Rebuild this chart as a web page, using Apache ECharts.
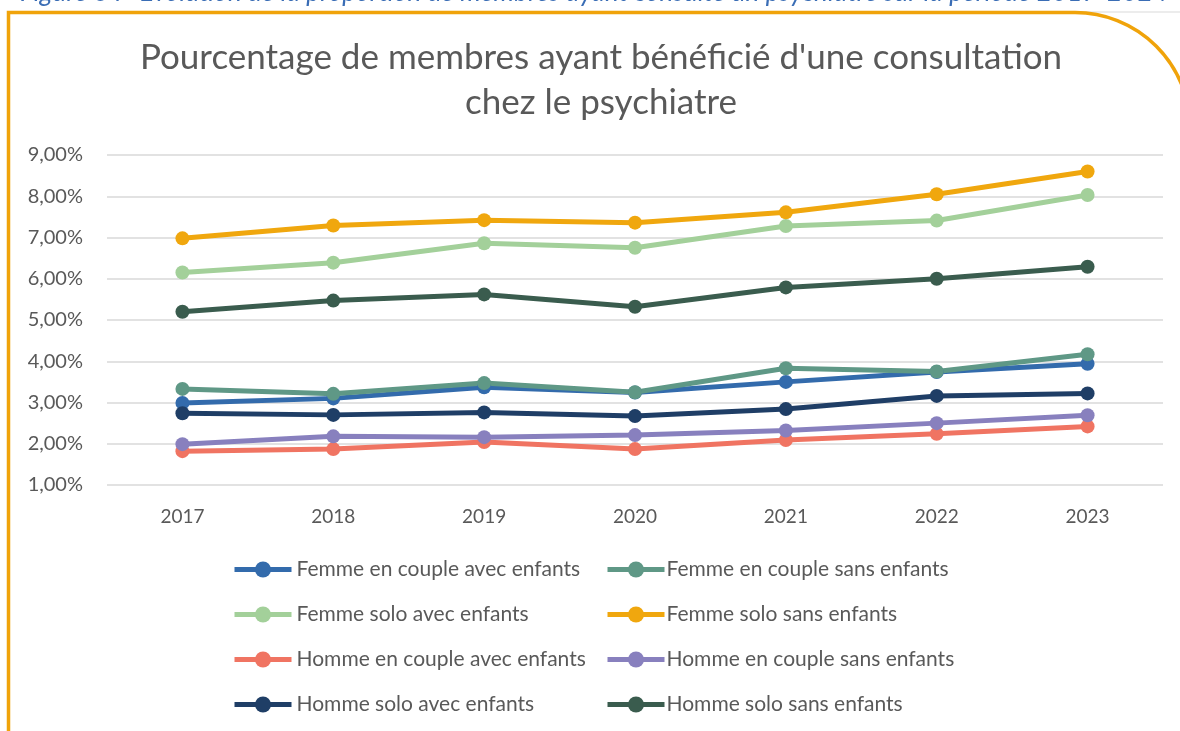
<!DOCTYPE html>
<html>
<head>
<meta charset="utf-8">
<script src="https://cdn.jsdelivr.net/npm/echarts@6/dist/echarts.min.js"></script>
<style>
html,body{margin:0;padding:0;background:#fff;}
#chart{width:1180px;height:731px;}
</style>
</head>
<body>
<div id="chart"></div>
<script>
const years = ['2017','2018','2019','2020','2021','2022','2023'];
const seriesNames = [
  'Femme en couple avec enfants','Femme en couple sans enfants',
  'Femme solo avec enfants','Femme solo sans enfants',
  'Homme en couple avec enfants','Homme en couple sans enfants',
  'Homme solo avec enfants','Homme solo sans enfants'
];
const femmeCoupleAvec  = [2.99, 3.10, 3.37, 3.24, 3.50, 3.74, 3.94];
const femmeCoupleSans  = [3.33, 3.21, 3.47, 3.25, 3.83, 3.75, 4.17];
const femmeSoloAvec    = [6.15, 6.39, 6.86, 6.75, 7.28, 7.41, 8.03];
const femmeSoloSans    = [6.98, 7.29, 7.42, 7.36, 7.61, 8.05, 8.60];
const hommeCoupleAvec  = [1.82, 1.87, 2.04, 1.87, 2.09, 2.24, 2.42];
const hommeCoupleSans  = [1.99, 2.18, 2.16, 2.21, 2.32, 2.50, 2.69];
const hommeSoloAvec    = [2.74, 2.70, 2.76, 2.67, 2.84, 3.16, 3.22];
const hommeSoloSans    = [5.20, 5.47, 5.62, 5.32, 5.79, 6.00, 6.29];
const colors = ['#336BAC','#5F9886','#A3D09A','#F0A70E','#F07462','#8880BE','#1F3E66','#3A5C4E'];
const allData = [femmeCoupleAvec, femmeCoupleSans, femmeSoloAvec, femmeSoloSans,
                 hommeCoupleAvec, hommeCoupleSans, hommeSoloAvec, hommeSoloSans];
const captionLabel = 'Figure 3 :';
const caption = 'Évolution de la proportion de membres ayant consulté un psychiatre sur la période 2017-2024';

const FONT = 'Lato, "Open Sans", sans-serif';
const chart = echarts.init(document.getElementById('chart'));

// legends: one per item, two columns of four rows
const legendCols = [232, 605];
const legendRows = [569, 614, 659, 704];
const legends = seriesNames.map((n, i) => ({
  data: [n],
  left: legendCols[i % 2],
  top: legendRows[Math.floor(i / 2)] - 10,
  padding: 0,
  itemWidth: 57,
  itemHeight: 20,
  lineStyle: {width: 5},
  textStyle: {fontFamily: FONT, fontSize: 21, color: '#595959', lineHeight: 20, padding: [0, 0, 0, i % 2 ? -3 : 0]}
}));

// caption (clipped at the top of the page): size it so it spans 140 -> 1170
const ctx = document.createElement('canvas').getContext('2d');
ctx.font = 'italic 19px ' + FONT;
const capSize = Math.round(19 * 1030 / ctx.measureText(caption).width * 10) / 10;
const capTop = 2 - 0.35 * capSize - capSize / 2;
const capFont = 'italic ' + capSize + 'px ' + FONT;

chart.setOption({
  animation: false,
  color: colors,
  title: {
    text: "Pourcentage de membres ayant bénéficié d'une consultation\nchez le psychiatre",
    left: 596, top: 30, textAlign: 'center',
    textStyle: {fontFamily: FONT, fontSize: 35, fontWeight: 'normal', color: '#595959', lineHeight: 45}
  },
  grid: {left: 107, right: 17, top: 155, bottom: 246, containLabel: false},
  xAxis: {
    type: 'category', data: years, boundaryGap: true,
    axisLine: {show: false}, axisTick: {show: false},
    axisLabel: {fontFamily: FONT, fontSize: 19, color: '#595959', margin: 22}
  },
  yAxis: {
    type: 'value', min: 1, max: 9, interval: 1,
    axisLine: {show: false}, axisTick: {show: false},
    splitLine: {lineStyle: {color: '#D9D9D9', width: 1.5}},
    axisLabel: {fontFamily: FONT, fontSize: 20, color: '#595959', margin: 24,
      formatter: v => v.toFixed(2).replace('.', ',') + '%'}
  },
  legend: legends,
  series: seriesNames.map((n, i) => ({
    name: n, type: 'line', data: allData[i],
    symbol: 'circle', symbolSize: 14,
    lineStyle: {width: 5, color: colors[i]},
    itemStyle: {color: colors[i]}
  })),
  graphic: [
    {type: 'line', shape: {x1: 1075, y1: 12, x2: 1180, y2: 12}, style: {stroke: '#D9D9D9', lineWidth: 1}, z: 0},
    {type: 'polyline', shape: {points: [[8.5, 735], [8.5, 12.5], [1075, 12.5]]},
     style: {stroke: '#F0A30A', lineWidth: 3.5, fill: null}, z: 1},
    {type: 'arc', shape: {cx: 1075, cy: 127.5, r: 115, startAngle: -Math.PI / 2, endAngle: 0, clockwise: true},
     style: {stroke: '#F0A30A', lineWidth: 3.5, fill: null}, z: 1},
    {type: 'text', style: {x: 20, y: capTop, text: captionLabel, font: capFont, fill: '#3A6DB5'}},
    {type: 'text', style: {x: 140, y: capTop, text: caption, font: capFont, fill: '#3A6DB5'}}
  ]
});
</script>
</body>
</html>
